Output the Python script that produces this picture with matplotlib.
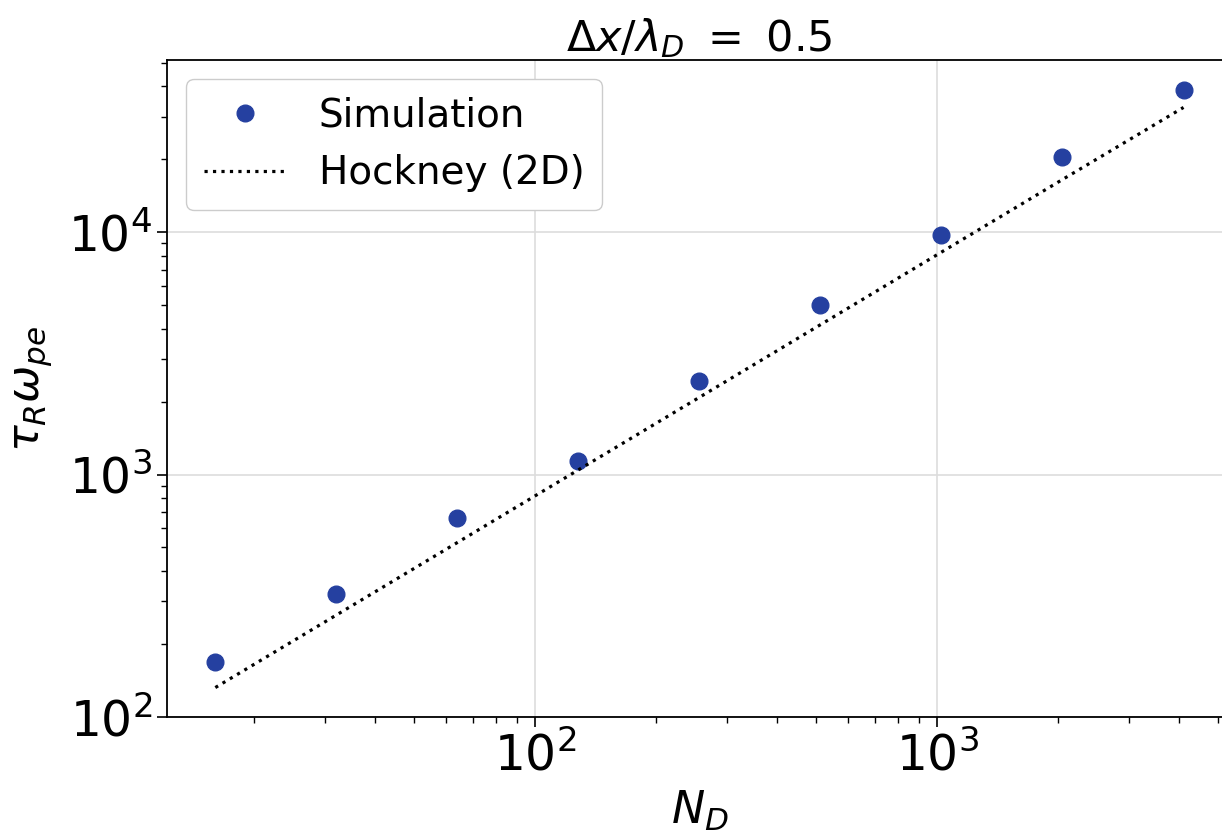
"""Relaxation time vs. number of particles per Debye square, log-log."""

import matplotlib

matplotlib.use("Agg")
import matplotlib.pyplot as plt  # noqa: E402

# data
n_d = [16, 32, 64, 128, 256, 512, 1024, 2048, 4096]
tau_sim = [169, 321, 664, 1136, 2443, 4990, 9750, 20370, 38730]
tau_hockney = [132, 263, 524, 1045, 2083, 4153, 8280, 16510, 32750]

SIM_COLOR = "#2540a0"

fig = plt.figure(figsize=(12.22, 8.38), dpi=100)
ax = fig.add_axes([0.1367, 0.1438, 0.8715, 0.7846])

ax.plot(n_d, tau_sim, "o", color=SIM_COLOR, markersize=12, label="Simulation")
ax.plot(n_d, tau_hockney, ":", color="black", linewidth=2.3, label="Hockney (2D)")

ax.set_xscale("log")
ax.set_yscale("log")
ax.set_xlim(10 ** 1.084, 10 ** 3.733)
ax.set_ylim(10 ** 1.997, 10 ** 4.711)

ax.grid(True, which="major", color="#dddddd", linewidth=1.2)
ax.set_axisbelow(True)
ax.tick_params(which="major", labelsize=35, length=7, width=1.2)
ax.tick_params(which="minor", length=4, width=1.0)
for sp in ax.spines.values():
    sp.set_linewidth(1.3)

ax.set_xlabel(r"$N_D$", fontsize=32, labelpad=6)
ax.set_ylabel(r"$\tau_R\omega_{pe}$", fontsize=32, labelpad=10)
ax.set_title(r"$\Delta x/\lambda_D\ =\ 0.5$", fontsize=31, pad=6)

ax.legend(loc="upper left", fontsize=28, handlelength=2.1, borderpad=0.45,
          labelspacing=0.5, handletextpad=0.85, framealpha=1.0,
          edgecolor="#cccccc")

fig.savefig("out.png", dpi=100)
